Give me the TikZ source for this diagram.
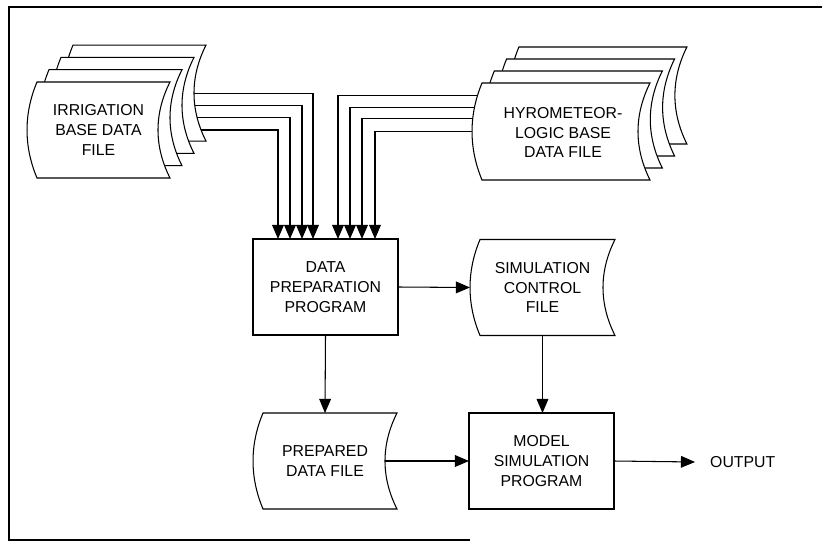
\documentclass[tikz,border=0pt]{standalone}
\usepackage{fontspec}
\setmainfont{Liberation Sans}
\usetikzlibrary{calc,arrows.meta}

% sheet outline: bulging left side, hollow right side
\newcommand{\filesheet}[1]{%
\draw[sheet] ($(#1.north west)+(10,0)$) -- (#1.north east)
  .. controls ($(#1.north east)!.33!(#1.south east)+(-16,0)$) and ($(#1.north east)!.67!(#1.south east)+(-16,0)$) .. (#1.south east)
  -- ($(#1.south west)+(10,0)$)
  .. controls ($(#1.south west)!.33!(#1.north west)+(-3.3,0)$) and ($(#1.south west)!.67!(#1.north west)+(-3.3,0)$) .. cycle;}

\begin{document}
\begin{tikzpicture}[x=0.03cm,y=-0.03cm,
  every node/.style={font=\fontsize{13.5}{16.8}\selectfont, align=center},
  flow/.style={line width=0.9pt, -{Triangle[width=10pt,length=12pt]}},
  sheet/.style={draw, fill=white, line width=0.9pt},
  box/.style={draw, line width=0.9pt, minimum width=145*0.03cm, minimum height=96*0.03cm, inner sep=0pt, outer sep=0pt},
  file/.style={minimum height=96*0.03cm, inner sep=0pt, outer sep=0pt}]
\useasboundingbox (0,0) rectangle (822,542);
\draw[line width=1.6pt] (822,7) -- (9,7) -- (9,540) -- (470,540);

\node[box] (prep) at (325.5,287) {DATA\\PREPARATION\\PROGRAM};
\node[box] (model) at (541.5,461) {MODEL\\SIMULATION\\PROGRAM};
\node[file, minimum width=145*0.03cm] (sim) at (542.5,287.5) {};
\node[file, minimum width=144*0.03cm] (prepd) at (325,461) {};

% stacked input files
\foreach \k in {0,...,3}{
  \node[file, minimum width=143*0.03cm] (irr\k) at ({98.5+12*\k},{130-12.3*\k}) {};
  \node[file, minimum width=178*0.03cm, minimum height=97*0.03cm] (hyd\k) at ({561+12.3*\k},{131.5-12*\k}) {};
}

\foreach \k/\dx in {0/25,1/37,2/49,3/60}
  \draw[flow] (irr\k.center) -| ($(prep.north west)+(\dx,0)$);
\foreach \dy/\dx in {-36/85,-24/97,-13/109,0/122}
  \draw[flow] ($(hyd0.center)+(0,\dy)$) -| ($(prep.north west)+(\dx,0)$);

\foreach \k in {3,2,1,0}{
  \filesheet{irr\k}
  \filesheet{hyd\k}
}
\filesheet{sim}
\filesheet{prepd}

\node (irrtext) at (irr0) {IRRIGATION\\BASE DATA\\FILE};
\node (hydtext) at ($(hyd0)+(2,1)$) {HYROMETEOR-\\LOGIC BASE\\DATA FILE};
\node (simtext) at (sim) {SIMULATION\\CONTROL\\FILE};
\node (prepdtext) at (prepd) {PREPARED\\DATA FILE};
\node[anchor=west, inner sep=0pt] (out) at (710,462) {OUTPUT};

\draw[flow] (prep.east) -- (sim.west);
\draw[flow] (prep.south) -- (prepd.north);
\draw[flow] (sim.south) -- (sim.south |- model.north);
\draw[flow] ($(prepd.east)+(-12,0)$) -- (model.west);
\draw[flow] (model.east) -- ($(out.west)+(-15,0)$);
\end{tikzpicture}
\end{document}
